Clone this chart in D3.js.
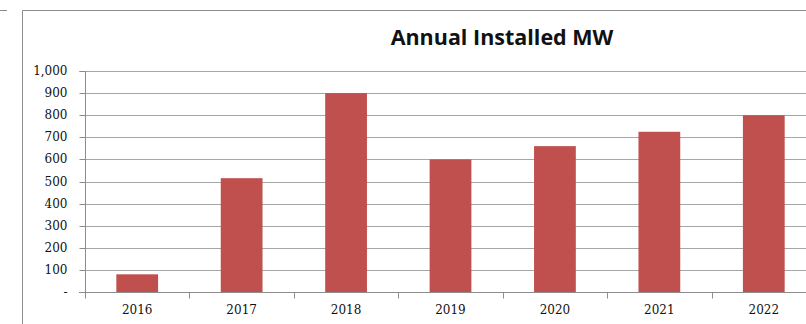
<!DOCTYPE html>
<html>
<head>
<meta charset="utf-8">
<script src="https://cdn.jsdelivr.net/npm/d3@7"></script>
<style>
  body { margin: 0; background: #fff; }
  .tick-label { font-family: "DejaVu Serif", "Liberation Serif", serif; font-size: 12px; fill: #111; }
</style>
</head>
<body>
<div id="chart"></div>
<script>
const years = ['2016', '2017', '2018', '2019', '2020', '2021', '2022']
const installed = [80, 515, 900, 600, 660, 725, 800]
const yTicks = [0, 100, 200, 300, 400, 500, 600, 700, 800, 900, 1000]

const width = 806, height = 324
const margin = {left: 85, top: 71, right: -10, bottom: 32}

const svg = d3.select('#chart').append('svg')
.attr('width', width)
.attr('height', height)

// chart frame
svg.append('path')
.attr('d', `M22.5,${height} V10.5 H${width}`)
.attr('fill', 'none')
.attr('stroke', '#8c8c8c')
.attr('stroke-width', 1)

// edge of neighbouring frame
svg.append('line')
.attr('x1', 0).attr('x2', 7)
.attr('y1', 10.5).attr('y2', 10.5)
.attr('stroke', '#8c8c8c')

const x = d3.scaleBand()
.domain(years)
.range([margin.left, width - margin.right])
.paddingInner(0.6)
.paddingOuter(0.3)

const xOuter = d3.scaleBand()
.domain(years)
.range([margin.left, width - margin.right])

const y = d3.scaleLinear()
.domain([0, 1000])
.range([height - margin.bottom, margin.top])

// gridlines
svg.append('g')
.selectAll('line')
.data(yTicks.slice(1))
.join('line')
.attr('x1', margin.left)
.attr('x2', width)
.attr('y1', d => Math.round(y(d)) + 0.5)
.attr('y2', d => Math.round(y(d)) + 0.5)
.attr('stroke', '#a6a6a6')
.attr('stroke-width', 1)

// y axis
const yAxis = svg.append('g')
.attr('transform', `translate(${margin.left + 0.5},0)`)
.call(
	d3.axisLeft(y)
	.tickValues(yTicks)
	.tickSize(6)
	.tickPadding(12)
	.tickFormat(d => d === 0 ? '-' : d3.format(',')(d))
)
yAxis.select('.domain').attr('stroke', '#8c8c8c').attr('d', `M-6,${Math.round(y(1000)) + 0.5}H0V${Math.round(y(0)) + 0.5}H-6`)
yAxis.selectAll('.tick line').attr('stroke', '#8c8c8c')
yAxis.selectAll('.tick').attr('transform', d => `translate(0,${Math.round(y(d)) + 0.5})`)
yAxis.selectAll('text')
.attr('class', 'tick-label')
.attr('font-family', null)
.attr('font-size', null)

// bars
svg.append('g')
.selectAll('rect')
.data(installed)
.join('rect')
.attr('x', (d, i) => x(years[i]))
.attr('y', d => y(d))
.attr('width', x.bandwidth())
.attr('height', d => y(0) - y(d))
.attr('fill', '#c0504d')

// x axis
const xAxis = svg.append('g')
.attr('transform', `translate(0,${Math.round(y(0)) + 0.5})`)

xAxis.append('line')
.attr('x1', margin.left - 6)
.attr('x2', width)
.attr('stroke', '#8c8c8c')

xAxis.selectAll('.xtick')
.data(years)
.join('line')
.attr('class', 'xtick')
.attr('x1', d => Math.round(xOuter(d)) + 0.5)
.attr('x2', d => Math.round(xOuter(d)) + 0.5)
.attr('y1', 0)
.attr('y2', 6)
.attr('stroke', '#8c8c8c')

xAxis.selectAll('text')
.data(years)
.join('text')
.attr('class', 'tick-label')
.attr('x', d => xOuter(d) + xOuter.bandwidth() / 2)
.attr('y', 21)
.attr('text-anchor', 'middle')
.text(d => d)

// title
svg.append('text')
.attr('x', 502)
.attr('y', 45)
.attr('text-anchor', 'middle')
.attr('font-family', '"Open Sans", "Noto Sans", sans-serif')
.attr('font-weight', 'bold')
.attr('font-size', 21.5)
.attr('fill', '#111')
.text('Annual Installed MW')
</script>
</body>
</html>
